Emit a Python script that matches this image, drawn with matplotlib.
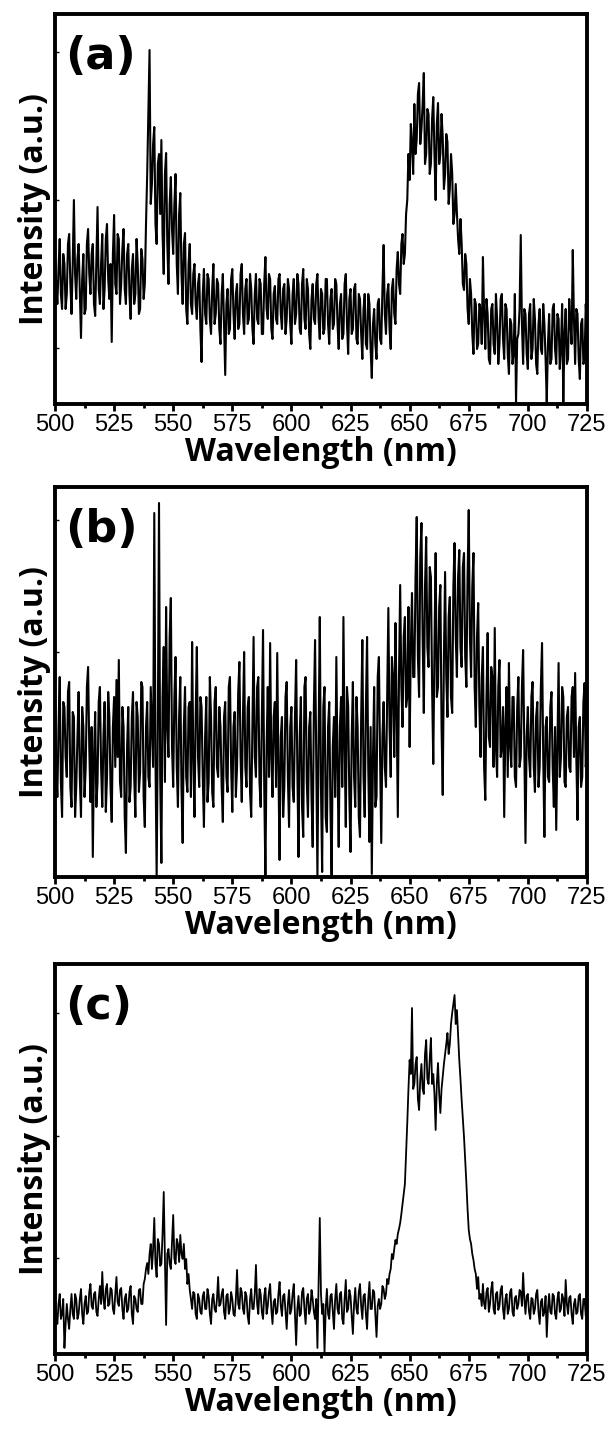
import numpy as np
import matplotlib
matplotlib.use("Agg")
import matplotlib.pyplot as plt
from matplotlib.ticker import MultipleLocator, FixedLocator, NullLocator

plt.rcParams['font.family'] = ['Liberation Sans', 'DejaVu Sans']

# Spectra sampled every 0.5 nm from 500 to 725 nm (451 points each)
# Panel (a) intensity (a.u.)
intensity_a = [
    150, 120, 100, 135, 165, 110, 95, 150, 140, 95, 110, 160, 170, 120, 90, 140, 204, 130, 105, 145,
    160, 115, 66, 125, 150, 90, 95, 160, 175, 130, 110, 150, 160, 100, 88, 145, 197, 115, 100, 140,
    170, 95, 115, 165, 180, 125, 105, 140, 62, 150, 189, 120, 110, 170, 165, 100, 120, 155, 175, 115,
    100, 150, 160, 110, 85, 135, 150, 100, 110, 165, 140, 90, 95, 155, 145, 105, 120, 180, 230, 290,
    354, 200, 220, 260, 277, 180, 160, 240, 250, 190, 264, 170, 130, 230, 251, 160, 120, 200, 227, 175,
    150, 200, 230, 140, 110, 190, 211, 130, 100, 160, 171, 95, 80, 140, 160, 100, 90, 130, 140, 100,
    85, 120, 130, 75, 42, 110, 135, 90, 80, 130, 125, 85, 70, 115, 140, 80, 90, 125, 120, 75,
    60, 110, 130, 80, 29, 100, 115, 70, 75, 125, 135, 90, 65, 110, 120, 75, 80, 130, 140, 90,
    70, 115, 125, 80, 85, 130, 115, 75, 60, 110, 130, 85, 80, 125, 120, 70, 70, 120, 147, 95,
    85, 130, 125, 75, 65, 110, 118, 85, 80, 125, 130, 90, 75, 115, 120, 70, 85, 125, 115, 80,
    60, 110, 125, 80, 90, 130, 120, 75, 70, 120, 135, 85, 75, 125, 115, 70, 55, 105, 120, 85,
    80, 120, 130, 85, 65, 115, 110, 70, 75, 125, 125, 80, 60, 105, 115, 75, 80, 125, 120, 80,
    55, 100, 110, 65, 70, 120, 130, 80, 50, 105, 115, 70, 75, 115, 120, 65, 60, 110, 105, 70,
    45, 95, 110, 60, 55, 110, 100, 55, 26, 80, 95, 60, 45, 100, 105, 65, 60, 115, 159, 90,
    70, 110, 120, 75, 55, 115, 125, 90, 80, 135, 152, 120, 110, 160, 170, 140, 150, 190, 204, 250,
    224, 280, 260, 230, 300, 250, 265, 310, 321, 260, 275, 300, 331, 240, 250, 295, 290, 230, 240, 285,
    307, 250, 204, 280, 301, 240, 250, 290, 267, 215, 230, 270, 262, 200, 215, 250, 231, 180, 190, 220,
    191, 165, 150, 185, 161, 120, 114, 150, 140, 95, 80, 125, 110, 70, 50, 105, 100, 55, 60, 100,
    95, 60, 147, 90, 55, 105, 90, 45, 40, 95, 100, 60, 50, 110, 85, 40, 60, 105, 110, 65,
    45, 100, 95, 50, 30, 85, 80, 40, 50, 110, 2, 65, 70, 95, 169, 80, 40, 95, 90, 50,
    35, 90, 100, 45, 55, 105, 85, 40, 30, 80, 95, 55, 50, 100, 80, 45, 2, 60, 90, 40,
    45, 95, 100, 55, 40, 90, 85, 35, 55, 100, 2, 70, 95, 40, 45, 105, 80, 60, 154, 85,
    40, 95, 90, 45, 25, 80, 85, 40, 45, 100, 70,
]

# Panel (b) intensity (a.u.)
intensity_b = [
    180, 110, 80, 150, 200, 95, 60, 175, 170, 120, 100, 185, 195, 90, 70, 165, 160, 60, 90, 140,
    185, 100, 60, 170, 150, 80, 110, 190, 210, 130, 75, 150, 20, 120, 165, 70, 95, 175, 190, 110,
    70, 140, 175, 65, 100, 185, 160, 90, 55, 150, 180, 110, 197, 120, 217, 95, 80, 170, 150, 60,
    24, 130, 170, 75, 90, 160, 185, 100, 60, 175, 160, 85, 105, 195, 190, 80, 50, 150, 175, 100,
    90, 190, 150, 110, 364, 120, 0, 150, 374, 100, 14, 180, 230, 95, 270, 150, 120, 240, 279, 130,
    90, 180, 220, 110, 70, 160, 200, 90, 34, 150, 190, 100, 85, 170, 175, 80, 235, 120, 60, 160,
    230, 120, 90, 180, 170, 100, 50, 140, 180, 75, 95, 200, 160, 85, 70, 175, 190, 110, 100, 170,
    150, 90, 55, 160, 175, 100, 85, 190, 200, 110, 65, 150, 165, 80, 110, 185, 215, 120, 75, 160,
    225, 110, 90, 170, 180, 85, 60, 150, 240, 120, 100, 190, 200, 95, 70, 160, 247, 90, 0, 130,
    190, 100, 234, 120, 80, 160, 175, 90, 224, 110, 17, 140, 160, 60, 90, 180, 195, 100, 50, 150,
    170, 90, 75, 160, 217, 110, 20, 140, 180, 70, 40, 190, 200, 95, 60, 150, 165, 80, 30, 170,
    237, 120, 0, 140, 260, 90, 5, 170, 190, 60, 45, 150, 175, 70, 0, 130, 160, 80, 220, 110,
    30, 150, 180, 90, 260, 130, 50, 190, 170, 80, 25, 140, 195, 100, 70, 180, 150, 60, 40, 160,
    237, 100, 60, 170, 240, 110, 35, 150, 3, 120, 190, 70, 80, 200, 220, 120, 34, 140, 175, 110,
    90, 180, 269, 150, 100, 220, 200, 120, 254, 170, 60, 200, 292, 190, 150, 240, 260, 170, 180, 270,
    130, 230, 284, 200, 200, 300, 360, 220, 180, 320, 354, 240, 164, 290, 340, 230, 210, 310, 300, 190,
    113, 230, 324, 180, 190, 270, 292, 150, 82, 220, 305, 200, 160, 260, 280, 180, 164, 290, 334, 240,
    200, 300, 327, 230, 210, 310, 324, 220, 190, 300, 367, 240, 200, 290, 324, 190, 150, 240, 274, 170,
    120, 200, 230, 110, 77, 180, 244, 140, 130, 210, 200, 110, 249, 130, 100, 190, 217, 120, 130, 170,
    60, 150, 190, 100, 214, 130, 110, 180, 180, 100, 90, 170, 200, 110, 120, 190, 227, 130, 34, 140,
    170, 120, 100, 180, 195, 110, 85, 160, 175, 90, 110, 190, 234, 120, 40, 150, 160, 100, 95, 170,
    185, 110, 70, 150, 47, 130, 214, 100, 120, 190, 180, 95, 90, 160, 170, 110, 105, 180, 190, 120,
    204, 120, 57, 150, 160, 90, 100, 175, 194, 110, 130,
]

# Panel (c) intensity (a.u.)
intensity_c = [
    55, 40, 30, 50, 60, 35, 40, 55, 6, 30, 50, 35, 25, 45, 60, 40, 35, 60, 55, 35,
    40, 55, 65, 40, 30, 50, 58, 40, 42, 62, 70, 48, 45, 60, 62, 42, 38, 55, 68, 50,
    82, 55, 45, 65, 70, 48, 50, 66, 64, 45, 40, 60, 77, 52, 48, 64, 66, 45, 35, 55,
    60, 42, 45, 62, 68, 40, 30, 58, 55, 45, 42, 64, 65, 50, 50, 70, 75, 85, 91, 80,
    100, 110, 85, 105, 136, 90, 77, 115, 110, 88, 90, 120, 162, 95, 29, 100, 105, 90, 85, 112,
    139, 95, 90, 115, 110, 92, 119, 100, 95, 110, 85, 95, 70, 80, 64, 55, 45, 62, 60, 40,
    35, 60, 55, 42, 40, 58, 62, 45, 45, 65, 58, 40, 30, 55, 60, 45, 42, 55, 77, 48,
    50, 60, 65, 42, 35, 58, 60, 40, 45, 62, 55, 40, 38, 55, 84, 50, 45, 66, 62, 45,
    40, 62, 58, 38, 30, 55, 65, 45, 45, 60, 89, 50, 40, 65, 60, 42, 35, 58, 66, 40,
    48, 62, 70, 45, 30, 52, 55, 40, 42, 60, 72, 48, 38, 58, 60, 42, 25, 50, 64, 40,
    45, 60, 70, 40, 9, 45, 58, 38, 40, 62, 66, 45, 30, 55, 60, 40, 45, 64, 55, 42,
    35, 55, 6, 70, 136, 60, 40, 50, 1, 45, 65, 40, 35, 58, 60, 42, 25, 55, 70, 45,
    40, 60, 62, 35, 30, 55, 74, 42, 45, 64, 58, 38, 20, 50, 66, 45, 40, 62, 70, 48,
    35, 58, 60, 40, 25, 55, 72, 45, 45, 64, 62, 40, 17, 48, 55, 45, 50, 68, 65, 55,
    60, 75, 70, 80, 85, 100, 95, 105, 114, 110, 120, 125, 131, 140, 150, 160, 170, 200, 231, 265,
    294, 280, 346, 265, 270, 290, 297, 255, 244, 275, 290, 265, 260, 300, 314, 275, 270, 295, 316, 270,
    280, 260, 224, 270, 291, 260, 241, 265, 278, 290, 300, 310, 321, 300, 310, 330, 341, 350, 359, 330,
    344, 320, 294, 275, 254, 235, 217, 195, 171, 145, 124, 115, 110, 100, 94, 85, 80, 65, 77, 55,
    60, 48, 70, 50, 45, 62, 66, 42, 50, 65, 72, 45, 40, 60, 62, 44, 48, 64, 68, 45,
    35, 55, 60, 40, 45, 62, 65, 42, 38, 56, 58, 45, 50, 64, 62, 48, 81, 55, 40, 58,
    60, 42, 35, 56, 55, 40, 45, 60, 64, 42, 30, 52, 55, 38, 42, 58, 17, 45, 60, 42,
    40, 60, 58, 40, 35, 55, 62, 42, 45, 60, 55, 38, 74, 50, 40, 56, 58, 40, 30, 50,
    55, 40, 42, 58, 60, 40, 35, 55, 55, 38, 45,
]

panel_labels = ["(a)", "(b)", "(c)"]
ytick_sets = [[56, 204, 352], [225, 357], [96, 218, 341]]
x_label = "Wavelength (nm)"
y_label = "Intensity (a.u.)"

fig = plt.figure(figsize=(6.15, 14.32), dpi=100)
bottoms = [0.7179, 0.3876, 0.0545]
series = [intensity_a, intensity_b, intensity_c]
widths = [1.5, 1.5, 1.3]

for bottom, data, lab, yt, lw in zip(bottoms, series, panel_labels, ytick_sets, widths):
    wavelength = np.linspace(500, 725, len(data))
    ax = fig.add_axes([0.0894, bottom, 0.865, 0.2723])
    ax.plot(wavelength, data, color="black", lw=lw)
    ax.set_xlim(500, 725)
    ax.set_ylim(0, 390)
    ax.xaxis.set_major_locator(MultipleLocator(25))
    ax.xaxis.set_minor_locator(MultipleLocator(12.5))
    ax.tick_params(axis="x", which="major", direction="out", length=5,
                   width=2, labelsize=17, pad=2)
    ax.tick_params(axis="x", which="minor", direction="out", length=3, width=2)
    ax.yaxis.set_major_locator(FixedLocator(yt))
    ax.yaxis.set_minor_locator(NullLocator())
    ax.tick_params(axis="y", which="major", direction="in", length=3,
                   width=1, labelleft=False)
    for sp in ax.spines.values():
        sp.set_linewidth(2.8)
    ax.set_xlabel(x_label, fontfamily="Open Sans", fontweight="bold",
                  fontsize=23, labelpad=0)
    ax.set_ylabel(y_label, fontfamily="Open Sans", fontweight="bold",
                  fontsize=23, labelpad=3)
    ax.text(0.02, 0.89, lab, transform=ax.transAxes, fontfamily="DejaVu Sans",
            fontweight="bold", fontsize=32, ha="left", va="center")

fig.savefig("out.png", dpi=100)
